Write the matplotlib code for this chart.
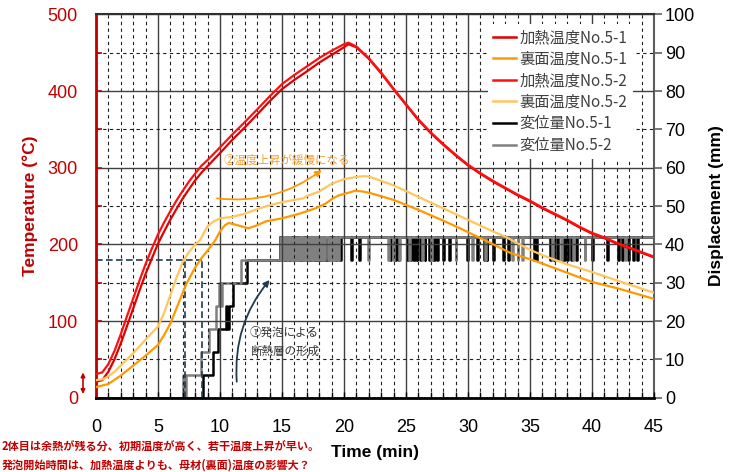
import matplotlib
matplotlib.use('Agg')
import matplotlib.pyplot as plt
from matplotlib.ticker import MultipleLocator
from matplotlib.lines import Line2D

plt.rcParams['font.family'] = ['Liberation Sans', 'Noto Sans CJK JP', 'DejaVu Sans']

# ---------------- data ----------------
# heating-side temperature (°C)
heat_rise_t = [0, 0.5, 1, 1.5, 2, 2.5, 3, 3.5, 4, 4.5, 5, 5.5, 6, 6.5, 7, 7.5, 8, 8.5, 9, 10, 11, 12, 13, 14,
               15, 16, 17, 18, 19, 20, 20.35]
heat1_rise = [21, 23, 34, 50.5, 71, 93.5, 116.5, 139.5, 161.5, 181.5, 201, 217, 232.5, 246.5, 260, 272, 283.5,
              293.5, 302, 319, 336.5, 352.5, 369.5, 386.5, 402.5, 414.5, 425.5, 437, 447, 457, 461]
heat2_rise = [31, 33, 44, 61.5, 83, 106.5, 129.5, 152.5, 174.5, 194.5, 213, 229, 243.5, 257.5, 270, 282, 292.5,
              302.5, 310, 326.5, 343.5, 359.5, 376, 393, 409, 421, 432, 443, 452.5, 461, 463]
heat_fall_t = [21, 22, 23, 24, 25, 26, 27, 28, 29, 30, 31, 32, 33, 34, 35, 36, 37, 38, 39, 40, 41, 42, 43, 44, 45]
heat_fall = [457, 442, 423, 402, 382, 362, 345, 330, 316, 303, 292, 282, 273, 264, 256, 247, 239, 231, 222, 214,
             208, 201, 195, 189, 183]

# back-side temperature (°C)
back1_t = [0, 1, 2, 3, 4, 5, 5.5, 6, 6.5, 7, 7.3, 8, 8.5, 9, 9.6, 10, 10.4, 10.7, 11.2, 12.3, 13, 13.7, 15, 16.4,
           17.7, 18.5, 19.1, 19.6, 20.5, 20.9, 21.5, 22.1, 24, 26, 28, 29.35, 30, 31.8, 33.4, 35.5, 38, 40, 42, 45]
back1_T = [14, 18, 29, 42, 55, 69, 82, 97, 117, 137, 149, 170, 182, 192, 205, 217, 225, 228, 226, 221, 225, 230, 234,
           240, 247, 253, 260, 264, 268, 270, 269, 267, 258, 245, 231, 221, 216, 202, 189, 178, 163, 151, 143, 129]
back2_t = [0, 0.5, 1, 1.5, 2, 3, 4, 5, 5.5, 6, 6.5, 7, 7.5, 8, 8.4, 9, 9.5, 10, 11, 12, 13, 14, 15, 16, 16.7, 17, 18,
           19, 19.5, 20, 21, 21.7, 22.1, 24, 26, 28, 30, 32, 33, 35, 36, 38, 40, 42, 45]
back2_T = [23, 24, 28, 34, 42, 58, 76, 93, 111, 134, 157, 177, 190, 200, 206, 224, 230, 234, 236, 240, 246, 251, 255,
           258, 260, 263, 269, 279, 282, 285, 288, 289, 288, 277, 262, 247, 232, 217, 210, 193, 186, 174, 164, 153, 137]

# displacement (mm): rising steps, then dips between 42 and 36 mm
disp1_t = [0, 8.65, 9.45, 9.85, 10.5, 10.6, 10.7, 11.05, 12.15, 14.8]
disp1_v = [0, 6, 12, 18, 24, 18, 24, 30, 36, 42]
disp2_t = [0, 7.05, 7.15, 7.25, 8.5, 9.15, 9.7, 9.95, 10.1, 10.2, 10.35, 11.7, 14.85]
disp2_v = [0, 6, 0, 6, 12, 18, 24, 30, 24, 30, 30, 36, 42]
disp_top = 42
disp_low = 36
dips1 = [(14.8, 14.95), (15.02, 15.1), (15.18, 15.3), (15.4, 15.5), (15.58, 15.75), (15.85, 15.95), (16.02, 16.15),
         (16.25, 16.35), (16.45, 16.6), (16.7, 16.8), (16.9, 17.1), (17.2, 17.3), (17.4, 17.5), (17.58, 17.75),
         (17.85, 17.95), (18.05, 18.2), (18.3, 18.4), (18.5, 18.7), (18.8, 18.9), (19.0, 19.15), (19.3, 19.45),
         (19.6, 19.75), (20.6, 20.68), (21.2, 21.28), (23.7, 23.78), (24.1, 24.2), (24.35, 24.42), (25.05, 25.15),
         (25.35, 25.42), (25.6, 25.7), (25.85, 25.92), (26.1, 26.2), (26.5, 26.57), (26.85, 26.92), (27.2, 27.3),
         (27.5, 27.57), (28.0, 28.07), (28.5, 28.57), (29.9, 29.97), (30.7, 30.77), (31.3, 31.37), (31.5, 31.57),
         (32.0, 32.07), (32.8, 32.87), (33.2, 33.27), (35.3, 35.37), (35.5, 35.57), (36.6, 36.7), (36.9, 36.97),
         (37.2, 37.27), (37.7, 37.8), (38.0, 38.07), (38.3, 38.37), (38.7, 38.8), (40.0, 40.07), (41.2, 41.27),
         (42.1, 42.2), (42.4, 42.47), (42.9, 42.97), (43.3, 43.37), (43.6, 43.67)]
dips2 = [(14.95, 15.05), (15.1, 15.2), (15.3, 15.42), (15.5, 15.58), (15.75, 15.88), (15.95, 16.05), (16.15, 16.25),
         (16.35, 16.45), (16.6, 16.7), (16.8, 16.9), (17.1, 17.2), (17.3, 17.4), (17.5, 17.58), (17.75, 17.85),
         (17.95, 18.05), (18.2, 18.3), (18.4, 18.5), (18.7, 18.8), (18.9, 19.0), (19.15, 19.3), (19.45, 19.6),
         (21.95, 22.02), (23.55, 23.62), (23.95, 24.05), (24.45, 24.52), (25.25, 25.32), (26.3, 26.37),
         (27.0, 27.07), (29.0, 29.07), (30.3, 30.37), (31.4, 31.47), (33.55, 33.62), (34.0, 34.07), (34.35, 34.45),
         (36.75, 36.82), (37.5, 37.57), (38.5, 38.57), (39.4, 39.47), (42.7, 42.77)]

# reference guide (foaming start) : level 36 mm, times 7.2 and 8.55 min
guide_level = 36
guide_times = [7.2, 8.55]

labels = ['加熱温度No.5-1', '裏面温度No.5-1', '加熱温度No.5-2', '裏面温度No.5-2', '変位量No.5-1', '変位量No.5-2']


def build(base_t, base_v, dips, end=45):
    t = list(base_t)
    v = list(base_v)
    for a, b in dips:
        t += [a, b]
        v += [disp_low, disp_top]
    t.append(end)
    v.append(disp_top)
    return t, v


d1_t, d1_v = build(disp1_t, disp1_v, dips1)
d2_t, d2_v = build(disp2_t, disp2_v, dips2)
heat1_t = heat_rise_t + heat_fall_t
heat1_T = heat1_rise + heat_fall
heat2_t = heat_rise_t + heat_fall_t
heat2_T = heat2_rise + [v + 1 for v in heat_fall]

# ---------------- figure ----------------
W, H = 740, 472
fig = plt.figure(figsize=(W / 100, H / 100), dpi=100)
L, R, T, B = 96, 654, 14.3, 397.8
ax = fig.add_axes([L / W, 1 - B / H, (R - L) / W, (B - T) / H])
ax2 = ax.twinx()
ax.set_zorder(ax2.get_zorder() + 1)
ax.patch.set_visible(False)

RED = '#C00000'
c_h1, c_h2 = '#E00000', '#FF1010'
c_b1, c_b2 = '#FF9900', '#FFC65C'
c_d1, c_d2 = '#000000', '#808080'

# displacement on ax2
ax2.plot(d1_t, d1_v, drawstyle='steps-post', color=c_d1, lw=1.8, zorder=3)
ax2.plot(d2_t, d2_v, drawstyle='steps-post', color=c_d2, lw=1.8, zorder=4)
guide_c = '#1F3B4D'
ax2.plot([0, guide_times[1]], [guide_level, guide_level], ls=(0, (4, 2)), color=guide_c, lw=1.2, zorder=5)
for gt in guide_times:
    ax2.plot([gt, gt], [0, guide_level], ls=(0, (4, 2)), color=guide_c, lw=1.2, zorder=5)

# temperatures on ax
ax.plot(heat1_t, heat1_T, color=c_h1, lw=1.6, zorder=4)
ax.plot(heat2_t, heat2_T, color=c_h2, lw=1.6, zorder=4)
ax.plot(back1_t, back1_T, color=c_b1, lw=1.6, zorder=4)
ax.plot(back2_t, back2_T, color=c_b2, lw=1.6, zorder=4)

ax.set_xlim(0, 45)
ax.set_ylim(0, 500)
ax2.set_ylim(0, 100)

ax.xaxis.set_major_locator(MultipleLocator(5))
ax.xaxis.set_minor_locator(MultipleLocator(1))
ax.yaxis.set_major_locator(MultipleLocator(100))
ax.yaxis.set_minor_locator(MultipleLocator(50))
ax2.yaxis.set_major_locator(MultipleLocator(10))

ax.grid(which='major', color='#404040', lw=1.0, ls='-', zorder=1)
ax.grid(which='minor', color='#202020', lw=0.8, ls=(0, (3, 3)), zorder=1)
ax.set_axisbelow(True)

# spines
ax.spines['left'].set_color(RED)
ax.spines['left'].set_linewidth(2)
ax.spines['bottom'].set_color('black')
ax.spines['bottom'].set_linewidth(2)
ax.spines['top'].set_color('#303030')
ax.spines['top'].set_linewidth(1.5)
ax.spines['right'].set_visible(False)
for s in ['left', 'top', 'bottom']:
    ax2.spines[s].set_visible(False)
ax2.spines['right'].set_color('#606060')
ax2.spines['right'].set_linewidth(1.5)

ax.tick_params(axis='y', which='both', direction='in', colors=RED, length=4, width=1.2, labelsize=13, pad=13)
ax.tick_params(axis='y', which='minor', labelleft=False)
ax.tick_params(axis='x', which='both', direction='in', color='black', length=4, width=1.0, labelsize=13, pad=15)
ax.tick_params(axis='x', which='major', labelcolor='black')
ax2.tick_params(axis='y', direction='out', color='#606060', labelcolor='black', length=6, width=1.2,
                labelsize=13, pad=2)

fig.text(30 / W, 1 - 206 / H, 'Temperature (°C)', rotation=90, ha='center', va='center',
         color=RED, fontsize=12.5, fontweight='bold')
fig.text(716 / W, 1 - 206 / H, 'Displacement (mm)', rotation=90, ha='center', va='center',
         color='black', fontsize=12.5, fontweight='bold')
fig.text(375 / W, 1 - 452 / H, 'Time (min)', ha='center', va='center', color='black',
         fontsize=12.5, fontweight='bold')

# bottom notes
fig.text(2 / W, 1 - 447 / H, '2体目は余熱が残る分、初期温度が高く、若干温度上昇が早い。', ha='left', va='center',
         color=RED, fontsize=8, fontweight='bold', family=['Noto Sans CJK JP'])
fig.text(2 / W, 1 - 465 / H, '発泡開始時間は、加熱温度よりも、母材(裏面)温度の影響大？', ha='left', va='center',
         color=RED, fontsize=8, fontweight='bold', family=['Noto Sans CJK JP'])

# annotations
ax.annotate('', xy=(18.2, 297), xytext=(9.76, 260),
            arrowprops=dict(arrowstyle='-|>', color='#FF9900', lw=1.3, mutation_scale=9,
                            connectionstyle='arc3,rad=0.2', shrinkA=0, shrinkB=0), zorder=6)
ax.text(10.3, 310, '②温度上昇が緩慢になる', color='#F5A030', fontsize=8.3, ha='left', va='center',
        family=['Noto Sans CJK JP'], zorder=6)
ax.annotate('', xy=(14.0, 153.6), xytext=(11.35, 21),
            arrowprops=dict(arrowstyle='-|>', color='#1F3B4D', lw=1.3, mutation_scale=9,
                            connectionstyle='arc3,rad=-0.2', shrinkA=0, shrinkB=0), zorder=6)
ax.text(12.4, 85, '①発泡による', color='#333333', fontsize=8.3, ha='left', va='center',
        family=['Noto Sans CJK JP'], zorder=6)
ax.text(12.4, 60, '断熱層の形成', color='#333333', fontsize=8.3, ha='left', va='center',
        family=['Noto Sans CJK JP'], zorder=6)
ax.annotate('', xy=(-1.05, 5), xytext=(-1.05, 33), annotation_clip=False,
            arrowprops=dict(arrowstyle='<|-|>', color=RED, lw=1.2, mutation_scale=6, shrinkA=0, shrinkB=0))

# legend
handles = [Line2D([], [], color=c_h1, lw=1.8), Line2D([], [], color=c_b1, lw=1.8),
           Line2D([], [], color=c_h2, lw=1.8), Line2D([], [], color=c_b2, lw=1.8),
           Line2D([], [], color=c_d1, lw=1.8), Line2D([], [], color=c_d2, lw=1.8)]
leg = ax.legend(handles, labels, loc='upper left', bbox_to_anchor=((480 - L) / (R - L), (B - 16) / (B - T)),
                prop={'family': ['Noto Sans CJK JP'], 'size': 11}, frameon=True, fancybox=False,
                framealpha=1, edgecolor='none', facecolor='white', handlelength=1.5, handletextpad=0.25,
                labelspacing=0.3, borderpad=0.35)
leg.set_zorder(10)
for txt in leg.get_texts():
    txt.set_color('#404040')

fig.savefig('out.png', dpi=100)
